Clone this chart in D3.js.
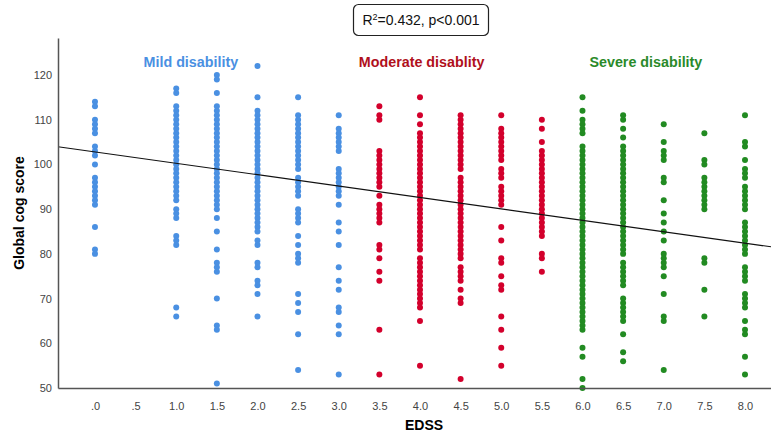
<!DOCTYPE html>
<html>
<head>
<meta charset="utf-8">
<script src="https://cdn.jsdelivr.net/npm/d3@7"></script>
<style>
    body { margin: 0; background: #fff; }
    svg { display: block; font-family: 'Liberation Sans', Arial, sans-serif; }
</style>
</head>
<body>
<div id="chart"></div>
<script>
// EDSS columns and the global cog scores
const edss = [0, 1.0, 1.5, 2.0, 2.5, 3.0, 3.5, 4.0, 4.5, 5.0, 5.5, 6.0, 6.5, 7.0, 7.5, 8.0];
const groupOf = ['mild', 'mild', 'mild', 'mild', 'mild', 'mild',
    'moderate', 'moderate', 'moderate', 'moderate', 'moderate',
    'severe', 'severe', 'severe', 'severe', 'severe'];
const scores = [
    [114, 113, 110, 109, 108, 107, 104, 103, 102, 100, 97, 96, 95, 94, 93, 92, 91, 86, 81, 80],
    [117, 116, 113, 112, 111, 110, 109, 108, 107, 106, 105, 104, 103, 102, 101, 100, 99, 98, 97, 96, 95, 94, 93, 92, 90, 89, 88, 84, 83, 82, 68, 66],
    [120, 119, 116, 113, 112, 111, 110, 109, 108, 107, 106, 105, 104, 103, 102, 101, 100, 99, 98, 97, 96, 95, 94, 93, 92, 91, 90, 88, 85, 81, 78, 77, 76, 70, 64, 63, 51],
    [122, 115, 112, 111, 110, 109, 108, 107, 106, 105, 104, 103, 102, 101, 100, 99, 98, 97, 96, 95, 94, 93, 92, 91, 90, 89, 88, 87, 86, 85, 83, 82, 78, 77, 74, 73, 71, 66],
    [115, 111, 110, 109, 108, 107, 106, 105, 104, 103, 102, 101, 100, 99, 97, 96, 95, 94, 93, 90, 89, 88, 87, 84, 82, 80, 79, 78, 71, 69, 67, 62, 54],
    [111, 108, 107, 106, 105, 104, 103, 99, 98, 97, 96, 95, 94, 93, 91, 87, 85, 82, 77, 74, 72, 68, 67, 64, 62, 53],
    [113, 111, 110, 103, 102, 101, 100, 99, 98, 97, 96, 95, 93, 91, 90, 89, 88, 87, 82, 81, 79, 76, 74, 63, 53],
    [115, 111, 109, 107, 106, 105, 104, 103, 102, 101, 100, 99, 98, 97, 96, 95, 94, 93, 92, 91, 90, 89, 88, 87, 86, 85, 84, 83, 82, 81, 79, 78, 77, 76, 75, 74, 73, 72, 71, 70, 69, 68, 65, 55],
    [111, 110, 109, 108, 107, 106, 105, 104, 103, 102, 101, 100, 99, 97, 96, 95, 94, 93, 92, 91, 90, 89, 88, 87, 86, 85, 84, 83, 82, 81, 80, 79, 77, 76, 75, 74, 72, 70, 69, 52],
    [111, 108, 107, 106, 105, 104, 103, 102, 101, 99, 98, 97, 95, 94, 93, 92, 91, 86, 83, 79, 78, 75, 73, 72, 66, 63, 59, 55],
    [110, 108, 105, 103, 102, 101, 100, 99, 98, 97, 96, 95, 94, 93, 92, 91, 90, 89, 88, 87, 86, 85, 84, 80, 79, 76],
    [115, 112, 110, 109, 108, 107, 104, 103, 102, 101, 100, 99, 98, 97, 96, 95, 94, 93, 92, 91, 90, 89, 88, 87, 86, 85, 84, 83, 82, 81, 80, 79, 78, 77, 76, 75, 74, 73, 72, 71, 70, 69, 68, 67, 66, 65, 64, 63, 59, 57, 52, 50],
    [111, 110, 108, 106, 104, 103, 102, 101, 100, 99, 98, 97, 96, 95, 94, 93, 92, 91, 90, 89, 88, 87, 86, 85, 84, 83, 82, 81, 80, 78, 77, 76, 75, 74, 73, 70, 69, 68, 67, 66, 65, 62, 58, 56],
    [109, 105, 103, 102, 101, 97, 96, 92, 89, 87, 85, 83, 80, 79, 78, 77, 75, 71, 66, 65, 54],
    [107, 101, 100, 97, 96, 95, 94, 93, 92, 91, 90, 79, 78, 72, 66],
    [111, 105, 104, 101, 99, 98, 97, 95, 94, 93, 92, 91, 90, 87, 86, 85, 84, 83, 82, 81, 80, 77, 76, 75, 74, 71, 70, 69, 68, 65, 63, 62, 57, 53]
];
const xTicks = [0, 0.5, 1, 1.5, 2, 2.5, 3, 3.5, 4, 4.5, 5, 5.5, 6, 6.5, 7, 7.5, 8];
const yTicks = [50, 60, 70, 80, 90, 100, 110, 120];
// fit line: intercept, slope
const fit = [102.8, -2.55];
const groupNames = ['mild', 'moderate', 'severe'];
const groupLabels = ['Mild disability', 'Moderate disablity', 'Severe disability'];
const groupLabelAt = [1.18, 4.02, 6.78];

const W = 771, H = 434;
const dotColor = { mild: '#4a90e2', moderate: '#d3002c', severe: '#228b22' };
const textColor = { mild: '#4a90e2', moderate: '#b0101c', severe: '#2a8a2a' };

const svg = d3.select('#chart').append('svg')
    .attr('width', W)
    .attr('height', H);

const x = d3.scaleLinear().domain([-0.455, 8.32]).range([58, 771]);
const y = d3.scaleLinear().domain([50, 120]).range([388, 75]);
const yTop = y.invert(38);

// points
let pts = [];
scores.forEach((col, i) => {
    col.forEach(v => pts.push({ e: edss[i], v: v, g: groupOf[i] }));
});
svg.append('g').selectAll('circle')
    .data(pts)
    .enter()
    .append('circle')
    .attr('cx', d => x(d.e))
    .attr('cy', d => y(d.v))
    .attr('r', 3)
    .attr('fill', d => dotColor[d.g]);

// regression line over the whole x range
const xd = x.domain();
svg.append('line')
    .attr('x1', x(xd[0])).attr('y1', y(fit[0] + fit[1] * xd[0]))
    .attr('x2', x(xd[1])).attr('y2', y(fit[0] + fit[1] * xd[1]))
    .attr('stroke', '#111')
    .attr('stroke-width', 1.2);

// axes
const fmtX = d => d === 0 ? '.0' : (d === 0.5 ? '.5' : d.toFixed(1));
const xAxis = svg.append('g')
    .attr('transform', 'translate(0,388)')
    .call(d3.axisBottom(x).tickValues(xTicks).tickFormat(fmtX).tickSize(0).tickPadding(14));
const yAxis = svg.append('g')
    .attr('transform', 'translate(58,0)')
    .call(d3.axisLeft(y.copy().domain([50, yTop]).range([388, 38])).tickValues(yTicks).tickSize(0).tickPadding(6));
[xAxis, yAxis].forEach(a => {
    a.select('.domain').attr('stroke', '#555').attr('stroke-width', 1.5);
    a.selectAll('text').attr('fill', '#444').attr('font-size', 11);
});

// group labels
groupNames.forEach((g, i) => {
    svg.append('text')
        .attr('x', x(groupLabelAt[i]))
        .attr('y', 67)
        .attr('text-anchor', 'middle')
        .attr('font-size', 14.3)
        .attr('font-weight', 'bold')
        .attr('fill', textColor[g])
        .text(groupLabels[i]);
});

// axis titles
svg.append('text')
    .attr('x', 424)
    .attr('y', 430)
    .attr('text-anchor', 'middle')
    .attr('font-size', 14)
    .attr('font-weight', 'bold')
    .text('EDSS');
svg.append('text')
    .attr('transform', 'translate(24,213) rotate(-90)')
    .attr('text-anchor', 'middle')
    .attr('font-size', 14)
    .attr('font-weight', 'bold')
    .text('Global cog score');

// stats box
svg.append('rect')
    .attr('x', 353.5).attr('y', 4.5)
    .attr('width', 135).attr('height', 31)
    .attr('rx', 5)
    .attr('fill', '#fff')
    .attr('stroke', '#222')
    .attr('stroke-width', 1.2);
const st = svg.append('text')
    .attr('x', 421)
    .attr('y', 25)
    .attr('text-anchor', 'middle')
    .attr('font-size', 14)
    .attr('fill', '#111');
st.append('tspan').text('R');
st.append('tspan').attr('dy', -5).attr('font-size', 9).text('2');
st.append('tspan').attr('dy', 5).text('=0.432, p<0.001');
</script>
</body>
</html>
